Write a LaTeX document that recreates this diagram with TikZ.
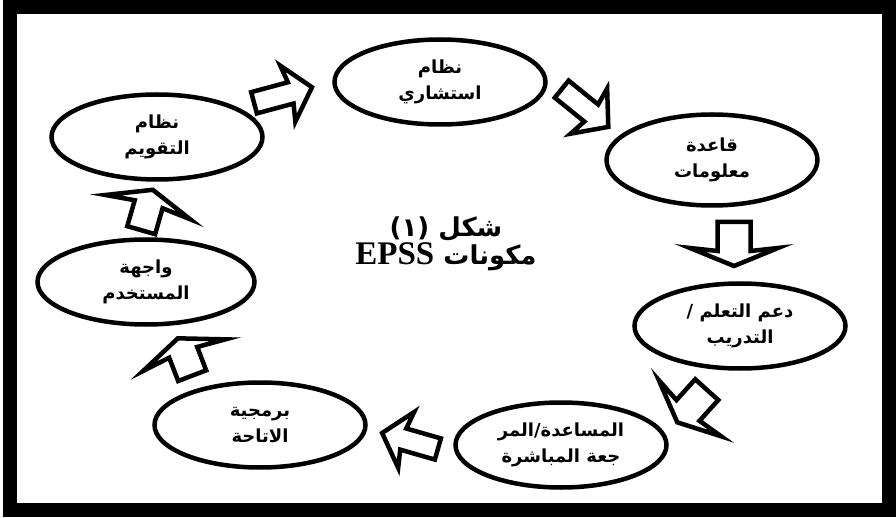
\documentclass[tikz,border=0pt]{standalone}
\usepackage{fontspec}
\setmainfont{Liberation Serif}
\newfontfamily\arabicfont[Script=Arabic, BoldFont={DejaVu Sans Bold}]{DejaVu Sans}
\TeXXeTstate=1
\usetikzlibrary{shapes.geometric}

\newcommand{\artxt}[1]{\beginR #1\endR}
% hollow block arrow: name, x, y, angle, length, shaft, head width, head length
\newcommand{\blockarrow}[8]{%
    \coordinate (#1) at (#2,#3);
    \draw[blk, shift={(#1)}, rotate=#4]
        ({-#5/2},{-#6/2}) -- ({#5/2-#8},{-#6/2}) -- ({#5/2-#8-3},{-#7/2})
        -- ({#5/2},0) -- ({#5/2-#8-3},{#7/2}) -- ({#5/2-#8},{#6/2})
        -- ({-#5/2},{#6/2}) -- cycle;}

\begin{document}
\begin{tikzpicture}[x=1pt,y=-1pt,
    part/.style = {draw, line width=4.5pt, ellipse, minimum width=211pt, minimum height=85pt, inner sep=0pt, align=center, font=\arabicfont\bfseries\fontsize{18}{26}\selectfont},
    blk/.style = {draw, line width=4.5pt, fill=white, line join=miter}]
    \useasboundingbox (0,0) rectangle (896,518);
    \draw[line width=14pt] (10,7) rectangle (889,510);

    % the seven parts
    \node[part] (e1) at (440,82) {\artxt{نظام}\\ \artxt{استشاري}};
    \node[part, minimum height=91pt] (e2) at (712,160) {\artxt{قاعدة}\\ \artxt{معلومات}};
    \node[part] (e3) at (740,326) {\artxt{دعم التعلم /}\\ \artxt{التدريب}};
    \node[part] (e4) at (561,445) {\artxt{المساعدة/المر}\\ \artxt{جعة المباشرة}};
    \node[part] (e5) at (260,425) {\artxt{برمجية}\\ \artxt{الاتاحة}};
    \node[part, minimum width=217pt] (e6) at (146,282) {\artxt{واجهة}\\ \artxt{المستخدم}};
    \node[part] (e7) at (157,137) {\artxt{نظام}\\ \artxt{التقويم}};

    % title in the middle
    \node[align=center, font=\bfseries] (title) at (446,244)
        {\arabicfont\fontsize{26}{36}\selectfont\artxt{شكل \beginL(١)\endL}\\
         \fontsize{26}{36}\selectfont\artxt{\arabicfont مكونات \beginL{\rmfamily\fontsize{33}{36}\selectfont EPSS}\endL}};

    % block arrows
    \blockarrow{a1}{283}{95}{15}{60}{22}{58}{22}
    \blockarrow{a2}{585}{108}{-39}{60}{22}{58}{22}
    \blockarrow{a3}{734}{244}{-90}{44}{33}{88}{15}
    \blockarrow{a4}{692}{406}{-132}{44}{31}{84}{16}
    \blockarrow{a5}{410}{441}{164}{58}{22}{58}{22}
    \blockarrow{a6}{185}{357}{111}{40}{30}{88}{15}
    \blockarrow{a7}{147}{210}{74}{42}{29}{88}{15}
\end{tikzpicture}
\end{document}
